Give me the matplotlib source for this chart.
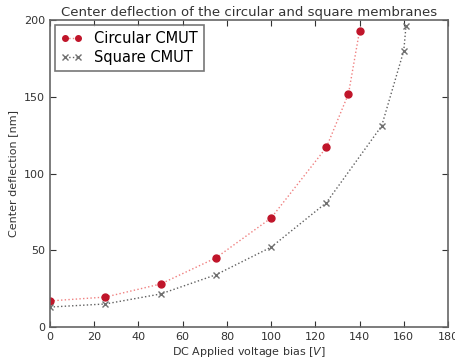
import matplotlib
matplotlib.use("Agg")
import matplotlib.pyplot as plt

circ_v = [0, 25, 50, 75, 100, 125, 135, 140]
circ_d = [17, 19.5, 28, 45, 71, 117, 152, 193]
sq_v = [0, 25, 50, 75, 100, 125, 150, 160, 161]
sq_d = [13, 15, 21.5, 34, 52, 81, 131, 180, 196]

fig = plt.figure(figsize=(4.56, 3.62), dpi=100)
ax = fig.add_axes([50/456, 1-327/362, 398/456, 307/362])

ax.plot(circ_v, circ_d, linestyle=':', color='#f08080', marker='o', linewidth=1,
        markersize=5, markerfacecolor='#c0152a', markeredgecolor='#c0152a',
        label='Circular CMUT')
ax.plot(sq_v, sq_d, linestyle=':', color='#606060', marker='x', linewidth=1,
        markersize=5, markeredgecolor='#707070', label='Square CMUT')

ax.set_xlim(0, 180)
ax.set_ylim(0, 200)
ax.set_xticks(range(0, 181, 20))
ax.set_yticks(range(0, 201, 50))
ax.tick_params(direction='in', top=True, right=True, labelsize=8,
               colors='#333333', length=4)
for s in ax.spines.values():
    s.set_color('#666666')
    s.set_linewidth(1.2)
ax.set_xlabel('DC Applied voltage bias [$V$]', fontsize=8, color='#333333', labelpad=2)
ax.set_ylabel('Center deflection [nm]', fontsize=8, color='#333333')
ax.set_title('Center deflection of the circular and square membranes',
             fontsize=9.5, color='#333333', pad=3)
leg = ax.legend(loc='upper left', fontsize=10.5, fancybox=False, numpoints=2,
                handlelength=1.5, borderaxespad=0.35, markerscale=0.8,
                labelspacing=0.3)
leg.get_frame().set_edgecolor('#555555')
leg.get_frame().set_linewidth(1.2)

fig.savefig('out.png', dpi=100)
